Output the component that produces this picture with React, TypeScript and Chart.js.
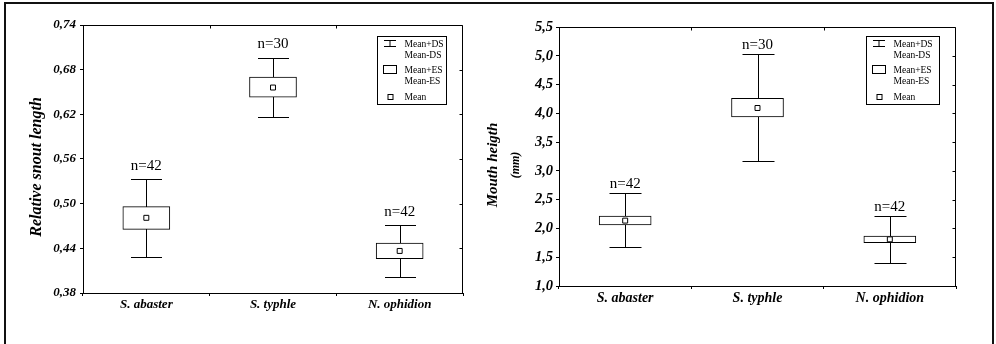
import React, { useEffect, useRef } from 'react';
import { Chart, registerables } from 'chart.js';

Chart.register(...registerables);

// ---------- data ----------
const CATEGORIES = ['S. abaster', 'S. typhle', 'N. ophidion'];
const N_LABELS = ['n=42', 'n=30', 'n=42'];
const LEGEND_LINES = [['Mean+DS', 'Mean-DS'], ['Mean+ES', 'Mean-ES'], ['Mean']];

// Chart 1: Relative snout length
const SNOUT_TITLE = ['Relative snout length'];
const SNOUT_SD_HIGH = [0.533, 0.696, 0.471];
const SNOUT_SE_HIGH = [0.496, 0.67, 0.447];
const SNOUT_MEAN = [0.481, 0.656, 0.4365];
const SNOUT_SE_LOW = [0.4655, 0.643, 0.426];
const SNOUT_SD_LOW = [0.429, 0.617, 0.402];
const SNOUT_TICKS = [0.38, 0.44, 0.5, 0.56, 0.62, 0.68, 0.74];

// Chart 2: Mouth heigth
const MOUTH_TITLE = ['Mouth heigth', '(mm)'];
const MOUTH_SD_HIGH = [2.61, 5.026, 2.216];
const MOUTH_SE_HIGH = [2.216, 4.261, 1.869];
const MOUTH_MEAN = [2.136, 4.093, 1.811];
const MOUTH_SE_LOW = [2.06, 3.936, 1.754];
const MOUTH_SD_LOW = [1.672, 3.166, 1.406];
const MOUTH_TICKS = [1.0, 1.5, 2.0, 2.5, 3.0, 3.5, 4.0, 4.5, 5.0, 5.5];

const SERIF = "'Liberation Serif', 'DejaVu Serif', serif";

type Spec = {
  width: number;
  height: number;
  sdHigh: number[];
  seHigh: number[];
  mean: number[];
  seLow: number[];
  sdLow: number[];
  ticks: number[];
  decimals: number;
  padding: { top: number; right: number; bottom: number; left: number };
  yWidth: number;
  xHeight: number;
  xFont: number;
  yFont: number;
  yPad: number;
  barThickness: number;
  capWidth: number;
  nOffset: number;
  titles: { text: string; x: number; y: number; size: number }[];
  legend: { rightOff: number; top: number; w: number; h: number };
};

function makePlugin(spec: Spec) {
  return {
    id: 'boxWhisker',
    beforeDatasetsDraw(chart: any) {
      const ctx = chart.ctx;
      const xs = chart.scales.x;
      const ys = chart.scales.y;
      ctx.save();
      ctx.strokeStyle = '#000';
      ctx.lineWidth = 1;
      for (let i = 0; i < spec.mean.length; i++) {
        const x = Math.round(xs.getPixelForValue(i)) + 0.5;
        const yHi = Math.round(ys.getPixelForValue(spec.sdHigh[i])) + 0.5;
        const yLo = Math.round(ys.getPixelForValue(spec.sdLow[i])) + 0.5;
        const h = spec.capWidth / 2;
        ctx.beginPath();
        ctx.moveTo(x, yHi);
        ctx.lineTo(x, yLo);
        ctx.moveTo(x - h, yHi);
        ctx.lineTo(x + h, yHi);
        ctx.moveTo(x - h, yLo);
        ctx.lineTo(x + h, yLo);
        ctx.stroke();
      }
      ctx.restore();
    },
    afterDatasetsDraw(chart: any) {
      const ctx = chart.ctx;
      const xs = chart.scales.x;
      const ys = chart.scales.y;
      ctx.save();
      ctx.fillStyle = '#000';
      ctx.font = `15px ${SERIF}`;
      ctx.textAlign = 'center';
      ctx.textBaseline = 'alphabetic';
      for (let i = 0; i < N_LABELS.length; i++) {
        const x = xs.getPixelForValue(i);
        const y = ys.getPixelForValue(spec.sdHigh[i]) - spec.nOffset;
        ctx.fillText(N_LABELS[i], x, y);
      }
      ctx.restore();
    },
    afterDraw(chart: any) {
      const ctx = chart.ctx;
      const a = chart.chartArea;
      const xs = chart.scales.x;
      const ys = chart.scales.y;
      ctx.save();
      ctx.strokeStyle = '#000';
      ctx.lineWidth = 1;
      // top and right frame lines
      const L = Math.round(a.left) + 0.5;
      const R = Math.round(a.right) - 0.5;
      const T = Math.round(a.top) + 0.5;
      ctx.beginPath();
      ctx.moveTo(L, T);
      ctx.lineTo(R, T);
      ctx.lineTo(R, Math.round(a.bottom));
      ctx.stroke();
      // right ticks
      ctx.beginPath();
      for (const t of ys.ticks) {
        const y = Math.round(ys.getPixelForValue(t.value)) + 0.5;
        ctx.moveTo(R, y);
        ctx.lineTo(R - 3, y);
      }
      // top ticks between categories
      for (let i = 0; i < CATEGORIES.length - 1; i++) {
        const x = Math.round((xs.getPixelForValue(i) + xs.getPixelForValue(i + 1)) / 2) + 0.5;
        ctx.moveTo(x, T);
        ctx.lineTo(x, T + 3);
      }
      ctx.stroke();

      // axis titles
      ctx.fillStyle = '#000';
      for (const t of spec.titles) {
        ctx.save();
        ctx.translate(t.x, t.y);
        ctx.rotate(-Math.PI / 2);
        ctx.font = `italic bold ${t.size}px ${SERIF}`;
        ctx.textAlign = 'center';
        ctx.textBaseline = 'middle';
        ctx.fillText(t.text, 0, 0);
        ctx.restore();
      }

      // legend
      const lg = spec.legend;
      const bx = Math.round(a.right - lg.rightOff - lg.w) + 0.5;
      const by = Math.round(a.top + lg.top) + 0.5;
      ctx.fillStyle = '#fff';
      ctx.fillRect(bx, by, lg.w, lg.h);
      ctx.strokeRect(bx, by, lg.w, lg.h);
      ctx.fillStyle = '#000';
      ctx.font = `9.5px ${SERIF}`;
      ctx.textAlign = 'left';
      ctx.textBaseline = 'middle';
      const tx = bx + 27;
      const rows = [7.5, 18.5, 33.5, 44.5, 60.5];
      const texts = [LEGEND_LINES[0][0], LEGEND_LINES[0][1], LEGEND_LINES[1][0], LEGEND_LINES[1][1], LEGEND_LINES[2][0]];
      texts.forEach((s, k) => ctx.fillText(s, tx, by + rows[k]));
      const cx = bx + 12.5;
      // whisker icon
      ctx.beginPath();
      ctx.moveTo(cx - 6, by + 4);
      ctx.lineTo(cx + 6, by + 4);
      ctx.moveTo(cx, by + 4);
      ctx.lineTo(cx, by + 10);
      ctx.moveTo(cx - 6, by + 10);
      ctx.lineTo(cx + 6, by + 10);
      ctx.stroke();
      // box icon
      ctx.strokeRect(bx + 6, by + 29, 13, 8);
      // mean icon
      ctx.strokeRect(cx - 2, by + 58, 5, 5);
      ctx.restore();
    },
  };
}

function makeConfig(spec: Spec): any {
  const fmt = (v: number) => v.toFixed(spec.decimals).replace('.', ',');
  return {
    type: 'bar',
    data: {
      labels: CATEGORIES,
      datasets: [
        {
          type: 'line',
          data: spec.mean,
          showLine: false,
          pointStyle: 'rect',
          pointRadius: 3.5,
          pointBackgroundColor: '#fff',
          pointBorderColor: '#000',
          pointBorderWidth: 1,
          order: 0,
        },
        {
          type: 'bar',
          data: spec.seLow.map((v, i) => [v, spec.seHigh[i]]),
          backgroundColor: '#fff',
          borderColor: '#000',
          borderWidth: 1,
          borderSkipped: false,
          barThickness: spec.barThickness,
          order: 1,
        },
      ],
    },
    options: {
      responsive: false,
      animation: false,
      devicePixelRatio: 1,
      layout: { padding: spec.padding },
      plugins: { legend: { display: false }, tooltip: { enabled: false } },
      scales: {
        x: {
          type: 'category',
          offset: true,
          grid: { offset: true, drawOnChartArea: false, tickLength: 3, color: '#000', tickColor: '#000' },
          border: { color: '#000', width: 1 },
          ticks: { color: '#000', padding: 1, font: { family: SERIF, size: spec.xFont, weight: 'bold', style: 'italic' } },
          afterFit: (s: any) => {
            s.height = spec.xHeight;
          },
        },
        y: {
          min: spec.ticks[0],
          max: spec.ticks[spec.ticks.length - 1],
          grid: { drawOnChartArea: false, tickLength: 3, color: '#000', tickColor: '#000' },
          border: { color: '#000', width: 1 },
          ticks: {
            color: '#000',
            padding: spec.yPad,
            font: { family: SERIF, size: spec.yFont, weight: 'bold', style: 'italic' },
            callback: (v: any) => fmt(Number(v)),
          },
          afterBuildTicks: (s: any) => {
            s.ticks = spec.ticks.map((v) => ({ value: v }));
          },
          afterFit: (s: any) => {
            s.width = spec.yWidth;
          },
        },
      },
    },
    plugins: [makePlugin(spec)],
  };
}

const SPEC1: Spec = {
  width: 476,
  height: 344,
  sdHigh: SNOUT_SD_HIGH,
  seHigh: SNOUT_SE_HIGH,
  mean: SNOUT_MEAN,
  seLow: SNOUT_SE_LOW,
  sdLow: SNOUT_SD_LOW,
  ticks: SNOUT_TICKS,
  decimals: 2,
  padding: { top: 25, right: 13, bottom: 0, left: 0 },
  yWidth: 83,
  xHeight: 51,
  xFont: 13,
  yFont: 13,
  yPad: 4,
  barThickness: 47,
  capWidth: 31,
  nOffset: 9.5,
  titles: [{ text: SNOUT_TITLE[0], x: 37, y: 167, size: 16 }],
  legend: { rightOff: 17, top: 11, w: 69, h: 68 },
};

const SPEC2: Spec = {
  width: 520,
  height: 344,
  sdHigh: MOUTH_SD_HIGH,
  seHigh: MOUTH_SE_HIGH,
  mean: MOUTH_MEAN,
  seLow: MOUTH_SE_LOW,
  sdLow: MOUTH_SD_LOW,
  ticks: MOUTH_TICKS,
  decimals: 1,
  padding: { top: 27, right: 40, bottom: 0, left: 0 },
  yWidth: 83,
  xHeight: 58,
  xFont: 14,
  yFont: 14.5,
  yPad: 3,
  barThickness: 52,
  capWidth: 32,
  nOffset: 5,
  titles: [
    { text: MOUTH_TITLE[0], x: 17, y: 165, size: 15 },
    { text: MOUTH_TITLE[1], x: 40, y: 165, size: 12 },
  ],
  legend: { rightOff: 17, top: 9, w: 73, h: 68 },
};

function BoxChart({ spec, left }: { spec: Spec; left: number }) {
  const ref = useRef<HTMLCanvasElement | null>(null);
  useEffect(() => {
    if (!ref.current) return;
    const chart = new Chart(ref.current, makeConfig(spec));
    return () => chart.destroy();
  }, [spec]);
  return (
    <canvas
      ref={ref}
      width={spec.width}
      height={spec.height}
      style={{ position: 'absolute', left, top: 0, width: spec.width, height: spec.height }}
    />
  );
}

export default function App() {
  return (
    <div
      style={{
        position: 'fixed',
        left: 0,
        top: 0,
        width: 996,
        height: 344,
        overflow: 'hidden',
        background: '#fff',
      }}
    >
      <BoxChart spec={SPEC1} left={0} />
      <BoxChart spec={SPEC2} left={476} />
      <div
        style={{
          position: 'absolute',
          left: 4,
          top: 2,
          width: 990,
          height: 400,
          boxSizing: 'border-box',
          border: '2px solid #111',
          pointerEvents: 'none',
        }}
      />
    </div>
  );
}
